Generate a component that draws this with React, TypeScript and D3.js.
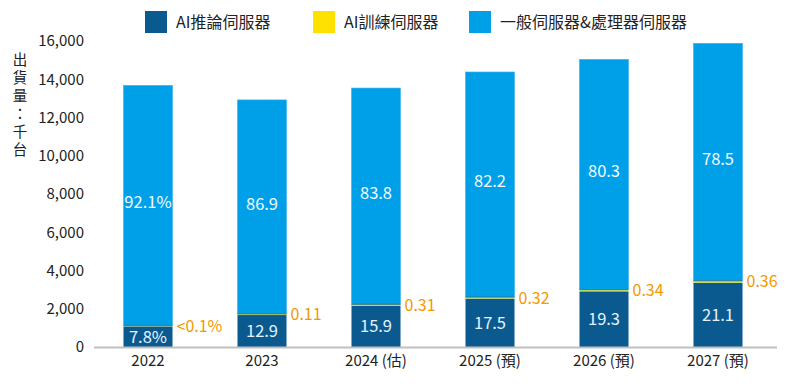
import * as d3 from 'd3'

const years = ['2022', '2023', '2024 (估)', '2025 (預)', '2026 (預)', '2027 (預)']
const inference = [1070, 1670, 2150, 2520, 2900, 3350]
const training = [60, 60, 80, 90, 100, 110]
const general = [12550, 11190, 11310, 11770, 12040, 12420]

const inferenceLabels = ['7.8%', '12.9', '15.9', '17.5', '19.3', '21.1']
const trainingLabels = ['<0.1%', '0.11', '0.31', '0.32', '0.34', '0.36']
const generalLabels = ['92.1%', '86.9', '83.8', '82.2', '80.3', '78.5']

const yTicks = [0, 2000, 4000, 6000, 8000, 10000, 12000, 14000, 16000]
const seriesNames = ['AI推論伺服器', 'AI訓練伺服器', '一般伺服器&處理器伺服器']
const legendColors = ['#0a5a90', '#ffe100', '#00a0e8']

const FONT = '"Noto Sans CJK TC", "Noto Sans", sans-serif'
const yTitle = '出貨量：千台'

export default function App() {
  const width = 800
  const height = 384

  const x = d3.scaleBand<string>().domain(years).range([91, 775]).paddingInner(0.57).paddingOuter(0.285)
  const y = d3.scaleLinear().domain([0, 16000]).range([347, 41])

  const rows = years.map((yr, i) => {
    const inf = inference[i]
    const tr = training[i]
    const gen = general[i]
    return { yr, i, y0: 0, y1: inf, y2: inf + tr, y3: inf + tr + gen }
  })

  const legendX = [145, 313, 469]

  return (
    <svg
      width={width}
      height={height}
      style={{ position: 'absolute', left: 0, top: 0, background: '#fff' }}
      fontFamily={FONT}
    >
      {/* legend */}
      {seriesNames.map((name, i) => (
        <g key={name} transform={`translate(${legendX[i]},11)`}>
          <rect width={22} height={22} fill={legendColors[i]} />
          <text x={31} y={11} dy="0.35em" fontSize={16} fill="#222">
            {name}
          </text>
        </g>
      ))}

      {/* y axis title, one character per row */}
      {yTitle.split('').map((ch, i) => (
        <text key={i} x={20} y={60 + i * 18} dy="0.35em" textAnchor="middle" fontSize={14.5} fill="#222">
          {ch}
        </text>
      ))}

      {/* y ticks */}
      {yTicks.map((t) => (
        <text key={t} x={84} y={y(t)} dy="0.35em" textAnchor="end" fontSize={15} fill="#222">
          {d3.format(',')(t)}
        </text>
      ))}

      {/* bars */}
      {rows.map((r) => {
        const bx = x(r.yr) as number
        const bw = x.bandwidth()
        return (
          <g key={r.yr}>
            <rect x={bx} y={y(r.y3)} width={bw} height={y(r.y2) - y(r.y3)} fill="#00a0e8" stroke="#3ab3ef" strokeWidth={0.6} />
            <rect x={bx} y={y(r.y2)} width={bw} height={y(r.y1) - y(r.y2)} fill="#d6e563" />
            <line x1={bx} x2={bx + bw} y1={y(r.y2)} y2={y(r.y2)} stroke="#1d5f7a" strokeWidth={0.8} />
            <rect x={bx} y={y(r.y1)} width={bw} height={y(r.y0) - y(r.y1)} fill="#0a5a90" />
            <text
              x={bx + bw / 2}
              y={(y(r.y0) + y(r.y1)) / 2}
              dy="0.35em"
              textAnchor="middle"
              fontSize={16.5}
              fill="#e3f4ff"
            >
              {inferenceLabels[r.i]}
            </text>
            <text
              x={bx + bw / 2}
              y={(y(r.y2) + y(r.y3)) / 2 - 3}
              dy="0.35em"
              textAnchor="middle"
              fontSize={16.5}
              fill="#f2fbff"
            >
              {generalLabels[r.i]}
            </text>
            <text
              x={bx + bw + 4}
              y={(y(r.y1) + y(r.y2)) / 2}
              dy="0.35em"
              fontSize={16}
              fill="#f39800"
            >
              {trainingLabels[r.i]}
            </text>
            <text x={bx + bw / 2} y={361} dy="0.35em" textAnchor="middle" fontSize={15} fill="#222">
              {r.yr}
            </text>
          </g>
        )
      })}

      {/* baseline */}
      <line x1={94} x2={777} y1={y(0) + 0.5} y2={y(0) + 0.5} stroke="#c0c0c0" strokeWidth={2} />
    </svg>
  )
}
